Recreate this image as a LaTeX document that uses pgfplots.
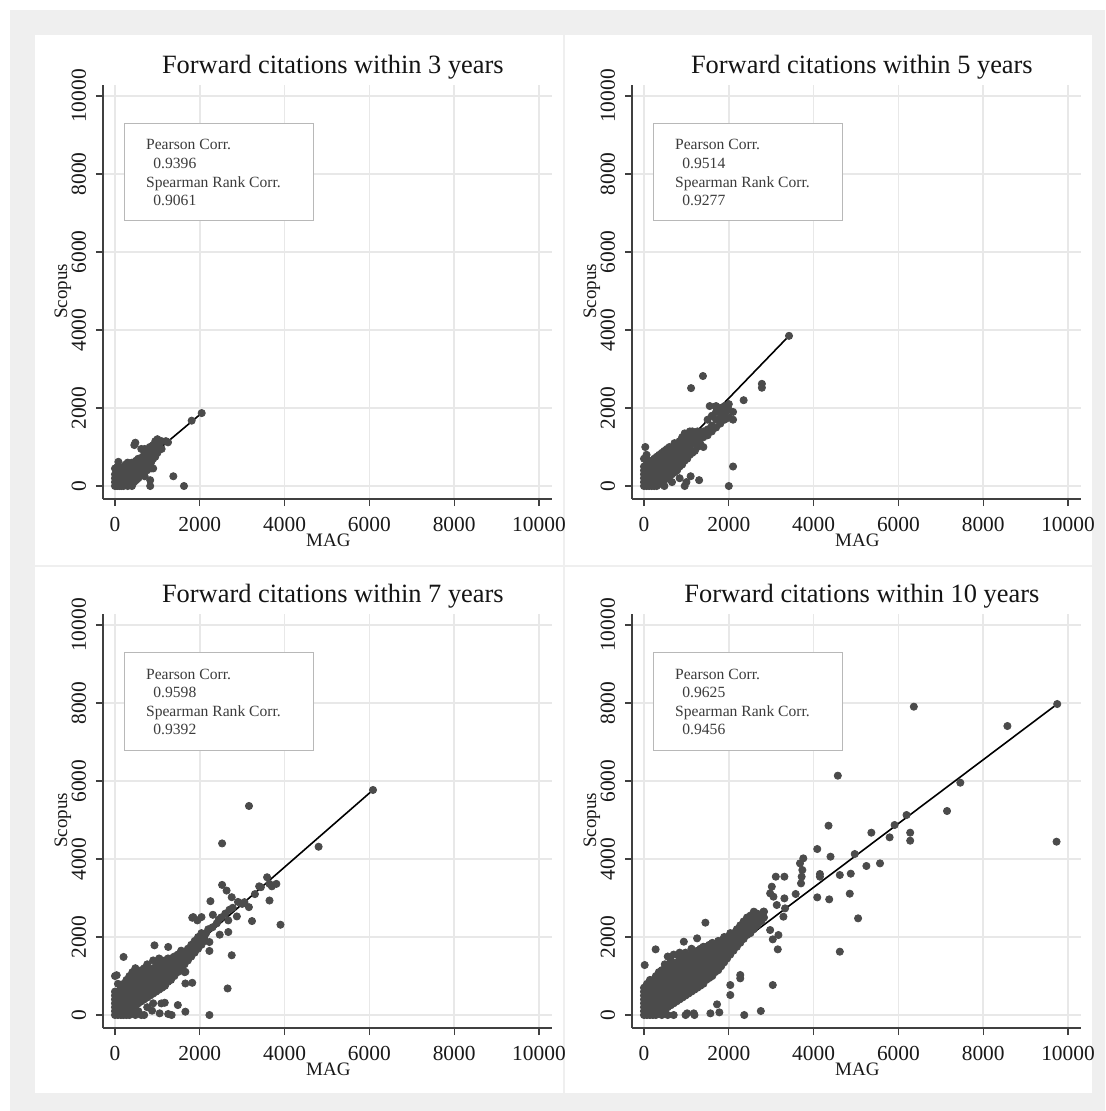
\documentclass[border=0pt]{standalone}
\usepackage{fontspec}
\setmainfont{Liberation Serif}
\usepackage{pgfplots}
\pgfplotsset{compat=1.18}
\definecolor{bgray}{HTML}{EFEFEF}
\definecolor{gridc}{HTML}{E8E8E8}
\definecolor{dotc}{HTML}{4B4B4B}
\definecolor{boxc}{HTML}{B8B8B8}
\definecolor{txtc}{HTML}{3C3C3C}
\newcommand{\boxfont}{\fontsize{7.8}{9}\selectfont}
\pgfplotsset{
  every axis title shift=0pt,
  panel/.style={
    scale only axis, width=224.5pt, height=207pt,
    anchor=south west,
    xmin=-283, xmax=10307, ymin=-333, ymax=10282,
    xtick={0,2000,...,10000}, ytick={0,2000,...,10000},
    axis x line*=bottom, axis y line*=left,
    axis line style={black!75, line width=0.6pt},
    tick style={black!75, line width=0.6pt},
    tick align=outside, major tick length=3.5pt,
    grid=major, major grid style={gridc, line width=0.8pt},
    /pgf/number format/assume math mode=true,
    scaled ticks=false, /pgf/number format/1000 sep={},
    ticklabel style={font=\fontsize{10.7}{12}\selectfont, text=black!90},
    xticklabel style={yshift=-1.9pt},
    yticklabel style={xshift=-1.4pt, rotate=90, anchor=south},
    xlabel=MAG, ylabel=Scopus,
    label style={font=\fontsize{9.5}{11}\selectfont, text=black!90},
    xlabel style={at={(axis description cs:0.502,-0.1155)}, anchor=base},
    ylabel style={at={(axis description cs:-0.080,0.502)}, anchor=base},
    title style={at={(axis description cs:0.512,1.027)}, anchor=base, font=\fontsize{13.2}{15}\selectfont, text=black!92},
  },
  dots/.style={only marks, mark=*, mark size=1.8pt, color=dotc, mark options={fill=dotc, draw=dotc}},
  fit/.style={black, line width=0.8pt, no marks},
}
\newcommand{\corrbox}[2]{%
  \draw[boxc, line width=0.5pt, fill=white] (axis description cs:0.0468,0.9058) rectangle (axis description cs:0.4677,0.6715);
  \node[anchor=base west, text=txtc, font=\boxfont, inner sep=0pt] at (axis description cs:0.0951,0.843) {Pearson Corr.};
  \node[anchor=base west, text=txtc, font=\boxfont, inner sep=0pt] at (axis description cs:0.1114,0.7995) {#1};
  \node[anchor=base west, text=txtc, font=\boxfont, inner sep=0pt] at (axis description cs:0.0951,0.7536) {Spearman Rank Corr.};
  \node[anchor=base west, text=txtc, font=\boxfont, inner sep=0pt] at (axis description cs:0.1114,0.7101) {#2};
}
\begin{document}
\begin{tikzpicture}
\fill[white] (0,0) rectangle (552.5pt,-555.5pt);
\fill[bgray] (5pt,-5pt) rectangle (552.5pt,-555.5pt);
\fill[white] (17.5pt,-17.5pt) rectangle (281.5pt,-282.5pt);
\fill[white] (282.5pt,-17.5pt) rectangle (546pt,-282.5pt);
\fill[white] (17.5pt,-283.5pt) rectangle (281.5pt,-546.5pt);
\fill[white] (282.5pt,-283.5pt) rectangle (546pt,-546.5pt);

% Panel 1: 3 years
\begin{axis}[panel, at={(51.5pt,-249.5pt)}, title={Forward citations within 3 years}]
\addplot[dots] coordinates {
(0,0)(0,100)(0,200)(0,300)(0,450)
(50,0)(50,80)(50,160)(50,250)(50,350)(50,480)
(100,0)(100,100)(100,200)(100,300)(100,400)(80,620)
(150,0)(150,60)(150,150)(150,250)(150,350)(150,450)
(200,0)(200,80)(200,180)(200,280)(200,380)(200,480)
(250,50)(250,150)(250,250)(250,350)(250,450)(250,550)
(300,0)(300,100)(300,200)(300,300)(300,400)(300,500)(300,600)
(350,50)(350,150)(350,250)(350,350)(350,450)(350,550)
(400,0)(400,100)(400,200)(400,300)(400,400)(400,500)(400,600)
(450,100)(450,200)(450,300)(450,400)(450,500)(450,600)(456,1050)
(500,150)(500,250)(500,350)(500,450)(500,550)(500,650)(480,1110)
(550,200)(550,300)(550,400)(550,500)(550,600)(550,700)
(600,300)(600,400)(600,500)(600,600)(600,700)(620,950)
(650,350)(650,450)(650,550)(650,650)(650,750)
(700,250)(700,450)(700,600)(700,700)(700,800)(700,950)
(750,400)(750,550)(750,650)(750,750)(750,880)
(800,500)(800,650)(800,800)(820,1000)
(830,0)(830,150)
(850,450)(850,600)(850,750)(850,850)
(900,450)(900,700)(900,850)(900,1050)
(950,750)(950,900)(950,1150)
(1000,850)(1000,1000)(1000,1200)
(1050,1000)(1050,1100)
(1100,950)(1100,1150)
(1200,1150)(1250,1120)
(1376,250)(1627,0)(1808,1675)(2045,1870)
};
\addplot[fit] coordinates {(0,0) (2045,1870)};
\corrbox{0.9396}{0.9061}
\end{axis}

% Panel 2: 5 years
\begin{axis}[panel, at={(316pt,-249.5pt)}, title={Forward citations within 5 years}]
\addplot[dots] coordinates {
(0,0)(0,100)(0,200)(0,300)(0,400)(0,500)(0,700)(30,1000)
(60,0)(60,100)(60,200)(60,300)(60,400)(60,550)(60,800)
(120,0)(120,100)(120,200)(120,300)(120,400)(120,500)(120,650)
(180,0)(180,80)(180,180)(180,280)(180,380)(180,480)(180,600)
(240,0)(240,100)(240,200)(240,300)(240,400)(240,500)(240,600)(240,700)
(300,0)(300,100)(300,200)(300,300)(300,400)(300,500)(300,600)(300,750)
(360,50)(360,150)(360,250)(360,350)(360,450)(360,550)(360,650)(360,800)
(420,100)(420,200)(420,300)(420,400)(420,500)(420,600)(420,700)(420,850)
(480,0)(480,150)(480,250)(480,350)(480,450)(480,550)(480,650)(480,750)(480,900)
(540,200)(540,300)(540,400)(540,500)(540,600)(540,700)(540,800)(540,950)
(600,250)(600,350)(600,450)(600,550)(600,650)(600,750)(600,850)(600,1000)
(660,100)(660,300)(660,400)(660,500)(660,600)(660,700)(660,800)(660,900)
(720,350)(720,500)(720,600)(720,700)(720,800)(720,950)(720,1100)
(780,400)(780,550)(780,700)(780,800)(780,900)(780,1050)
(840,200)(840,500)(840,650)(840,800)(840,950)(840,1150)
(900,550)(900,750)(900,900)(900,1050)(900,1250)
(960,0)(960,650)(960,850)(960,1000)(960,1150)(960,1350)
(1020,700)(1020,900)(1020,1100)(1020,1300)
(1080,800)(1080,1000)(1080,1200)(1080,1400)
(1140,850)(1140,1100)(1140,1300)(1140,1400)
(1200,900)(1200,1150)(1200,1350)
(1260,1000)(1260,1250)(1260,1400)
(1320,1100)(1320,1300)(1000,100)(1100,250)(1300,150)
(1400,1000)(1400,1250)(1400,1400)
(1500,1300)(1500,1450)(1500,1700)(1550,2050)
(1600,1400)(1600,1550)(1600,1800)
(1700,1500)(1700,1700)(1700,1900)(1700,2050)
(1800,1600)(1800,1750)(1800,1900)(1800,2000)
(1900,1700)(1900,1850)(1900,2050)
(2000,1750)(2000,1950)(2000,2100)(2000,0)
(2100,500)(2100,1700)(2100,1900)(2350,2200)
(1390,2820)(1110,2510)(2780,2620)(2780,2520)(3420,3850)
};
\addplot[fit] coordinates {(0,0) (3420,3850)};
\corrbox{0.9514}{0.9277}
\end{axis}

% Panel 3: 7 years
\begin{axis}[panel, at={(51.5pt,-514pt)}, title={Forward citations within 7 years}]
\addplot[dots] coordinates {
(0,0)(0,100)(0,200)(0,300)(0,400)(0,500)(0,600)(0,1000)
(70,0)(70,100)(70,200)(70,300)(70,400)(70,500)(70,600)(70,800)
(140,0)(140,100)(140,200)(140,300)(140,400)(140,500)(140,600)(140,700)
(200,0)(200,100)(200,200)(200,300)(200,400)(200,500)(200,600)(200,700)(200,800)(202,1489)
(270,0)(270,100)(270,200)(270,300)(270,400)(270,500)(270,600)(270,700)(270,800)(270,900)
(340,0)(340,150)(340,250)(340,350)(340,450)(340,550)(340,650)(340,750)(340,850)(340,1000)
(410,50)(410,200)(410,300)(410,400)(410,500)(410,600)(410,700)(410,800)(410,900)(410,1100)
(480,0)(480,250)(480,350)(480,450)(480,550)(480,650)(480,750)(480,850)(480,950)(480,1200)
(550,100)(550,300)(550,400)(550,500)(550,600)(550,700)(550,800)(550,900)(550,1050)
(620,0)(620,350)(620,450)(620,550)(620,650)(620,750)(620,850)(620,950)(620,1150)
(690,400)(690,500)(690,600)(690,700)(690,800)(690,900)(690,1000)(690,1200)
(760,200)(760,450)(760,550)(760,650)(760,750)(760,850)(760,950)(760,1100)(760,1300)
(830,500)(830,600)(830,700)(830,800)(830,900)(830,1000)(830,1150)
(900,300)(900,550)(900,650)(900,750)(900,850)(900,950)(900,1050)(900,1200)(900,1400)
(970,600)(970,700)(970,800)(970,900)(970,1000)(970,1100)(970,1250)
(1040,650)(1040,750)(1040,850)(1040,950)(1040,1050)(1040,1150)(1040,1300)(1040,1450)
(1110,700)(1110,850)(1110,950)(1110,1050)(1110,1150)(1110,1250)(1110,1400)
(1180,750)(1180,900)(1180,1000)(1180,1100)(1180,1200)(1180,1300)(1180,1400)
(1250,850)(1250,1000)(1250,1100)(1250,1200)(1250,1300)(1250,1450)
(1320,900)(1320,1050)(1320,1150)(1320,1250)(1320,1350)(1320,1450)
(1400,1000)(1400,1150)(1400,1250)(1400,1350)(1400,1500)
(1480,1100)(1480,1250)(1480,1400)(1480,1550)
(1560,1200)(1560,1350)(1560,1500)(1560,1650)
(1640,1300)(1640,1450)(1640,1600)(1640,1100)
(1720,1400)(1720,1550)(1720,1700)
(1800,1500)(1800,1650)(1800,1800)
(1880,1600)(1880,1750)(1880,1900)
(1960,1700)(1960,1850)(1960,2000)
(2040,1800)(2040,1950)(2040,2100)
(2120,1900)(2120,2050)(2150,2100)(2200,2200)(2300,2250)(2400,2350)(2450,2450)
(2500,2500)(2600,2600)(2700,2700)(2900,2900)(3000,2850)(3300,3100)(3400,3300)(3700,3300)
(2526,4400)(4802,4315)(3587,3532)(3806,3362)(3644,3362)(3441,3277)(3053,2894)(3158,2766)
(2526,3336)(2632,3191)(2753,3021)(3644,2936)(2251,2919)(2308,2570)(2777,2749)(2874,2528)
(2672,2426)(3231,2409)(3903,2315)(2470,2060)(2672,2128)(2227,1872)(2227,1643)(2753,1532)
(2656,681)(2227,0)(1822,2494)(1846,2511)(2040,2511)(1943,2426)(931,1787)(40,1021)
(1255,1745)(1660,809)(1822,826)(1660,1106)(1482,255)(1660,85)(1255,26)(1336,0)
(1053,43)(1093,298)(1174,315)(874,111)(688,0)(3160,5360)(6085,5770)
};
\addplot[fit] coordinates {(0,0) (6085,5770)};
\corrbox{0.9598}{0.9392}
\end{axis}

% Panel 4: 10 years
\begin{axis}[panel, at={(316pt,-514pt)}, title={Forward citations within 10 years}]
\addplot[dots] coordinates {
(0,0)(0,100)(0,200)(0,300)(0,400)(0,500)(0,600)(0,700)(16,1282)
(70,0)(70,100)(70,200)(70,300)(70,400)(70,500)(70,600)(70,700)(70,800)
(140,0)(140,100)(140,200)(140,300)(140,400)(140,500)(140,600)(140,700)(140,800)(140,900)
(210,0)(210,100)(210,200)(210,300)(210,400)(210,500)(210,600)(210,700)(210,800)(210,900)
(280,0)(280,100)(280,200)(280,300)(280,400)(280,500)(280,600)(280,700)(280,800)(280,900)(280,1000)(274,1684)
(350,50)(350,150)(350,250)(350,350)(350,450)(350,550)(350,650)(350,750)(350,850)(350,950)(350,1100)
(420,0)(420,100)(420,200)(420,300)(420,400)(420,500)(420,600)(420,700)(420,800)(420,900)(420,1000)(420,1150)
(490,100)(490,200)(490,300)(490,400)(490,500)(490,600)(490,700)(490,800)(490,900)(490,1000)(490,1100)(490,1300)
(560,0)(560,200)(560,300)(560,400)(560,500)(560,600)(560,700)(560,800)(560,900)(560,1000)(560,1100)(560,1200)(560,1500)
(630,250)(630,350)(630,450)(630,550)(630,650)(630,750)(630,850)(630,950)(630,1050)(630,1150)(630,1250)(630,1400)
(700,0)(700,300)(700,400)(700,500)(700,600)(700,700)(700,800)(700,900)(700,1000)(700,1100)(700,1200)(700,1300)(700,1550)
(770,350)(770,450)(770,550)(770,650)(770,750)(770,850)(770,950)(770,1050)(770,1150)(770,1250)(770,1350)
(840,400)(840,500)(840,600)(840,700)(840,800)(840,900)(840,1000)(840,1100)(840,1200)(840,1300)(840,1450)(840,1600)
(910,450)(910,550)(910,650)(910,750)(910,850)(910,950)(910,1050)(910,1150)(910,1250)(910,1350)(910,1500)(939,1880)
(980,0)(980,500)(980,600)(980,700)(980,800)(980,900)(980,1000)(980,1100)(980,1200)(980,1300)(980,1400)(980,1600)
(1050,550)(1050,650)(1050,750)(1050,850)(1050,950)(1050,1050)(1050,1150)(1050,1250)(1050,1350)(1050,1500)
(1120,600)(1120,700)(1120,800)(1120,900)(1120,1000)(1120,1100)(1120,1200)(1120,1300)(1120,1400)(1120,1550)(1120,1700)
(1190,0)(1190,650)(1190,750)(1190,850)(1190,950)(1190,1050)(1190,1150)(1190,1250)(1190,1350)(1190,1450)(1190,1600)
(1260,700)(1260,800)(1260,900)(1260,1000)(1260,1100)(1260,1200)(1260,1300)(1260,1400)(1260,1500)(1260,1650)(1252,1966)
(1330,750)(1330,850)(1330,950)(1330,1050)(1330,1150)(1330,1250)(1330,1350)(1330,1450)(1330,1550)(1330,1700)
(1400,800)(1400,900)(1400,1000)(1400,1100)(1400,1200)(1400,1300)(1400,1400)(1400,1500)(1400,1600)(1400,1750)(1448,2368)
(1470,900)(1470,1000)(1470,1100)(1470,1200)(1470,1300)(1470,1400)(1470,1500)(1470,1600)(1470,1750)
(1540,950)(1540,1050)(1540,1150)(1540,1250)(1540,1350)(1540,1450)(1540,1550)(1540,1650)(1540,1800)(1566,43)
(1610,1000)(1610,1100)(1610,1200)(1610,1300)(1610,1400)(1610,1500)(1610,1600)(1610,1700)(1610,1850)
(1680,1100)(1680,1200)(1680,1300)(1680,1400)(1680,1500)(1680,1600)(1680,1700)(1680,1800)
(1750,1150)(1750,1300)(1750,1400)(1750,1500)(1750,1600)(1750,1700)(1750,1800)(1750,1900)(1777,68)(1722,274)
(1820,1250)(1820,1400)(1820,1500)(1820,1600)(1820,1700)(1820,1800)(1820,1900)
(1890,1350)(1890,1500)(1890,1600)(1890,1700)(1890,1800)(1890,1900)(1890,2000)
(1960,1450)(1960,1600)(1960,1700)(1960,1800)(1960,1900)(1960,2000)
(2035,513)(2035,769)(2035,1550)(2035,1700)(2035,1850)(2035,2000)(2035,2100)
(2110,1650)(2110,1800)(2110,1950)(2110,2100)
(2190,1750)(2190,1900)(2190,2050)(2190,2200)
(2270,940)(2270,1026)(2270,1850)(2270,2000)(2270,2150)(2270,2300)
(2350,1950)(2350,2100)(2350,2250)(2350,2400)(2364,0)
(2430,2050)(2430,2200)(2430,2350)(2430,2500)
(2510,2100)(2510,2250)(2510,2400)(2510,2550)
(2590,2200)(2590,2350)(2590,2500)(2590,2650)
(2670,2300)(2670,2450)(2670,2600)
(2750,2400)(2750,2550)(2755,103)
(2830,2500)(2830,2650)
(1017,43)(1174,43)
(6364,7906)(8571,7410)(4571,6137)(7460,5957)(7147,5231)(6192,5128)(9730,4444)(5910,4872)
(5793,4556)(6278,4675)(6278,4470)(5362,4675)(4352,4855)(4086,4256)(4399,4060)(4970,4128)
(5566,3889)(5245,3821)(4876,3624)(4618,3590)(4149,3615)(4149,3547)(4853,3111)(4368,2966)
(4086,3017)(5049,2479)(4618,1624)(3757,4017)(3679,3889)(3734,3718)(3718,3547)(3703,3376)
(3577,3103)(3108,3547)(3311,3547)(3014,3291)(2975,3120)(3053,3034)(3311,2991)(3327,2735)
(3288,2521)(3131,2821)(2818,2650)(2779,2436)(2975,2179)(3170,2051)(3037,1940)(3155,1684)
(3037,769)(9746,7974)
};
\addplot[fit] coordinates {(0,0) (9746,7974)};
\corrbox{0.9625}{0.9456}
\end{axis}
\end{tikzpicture}
\end{document}
